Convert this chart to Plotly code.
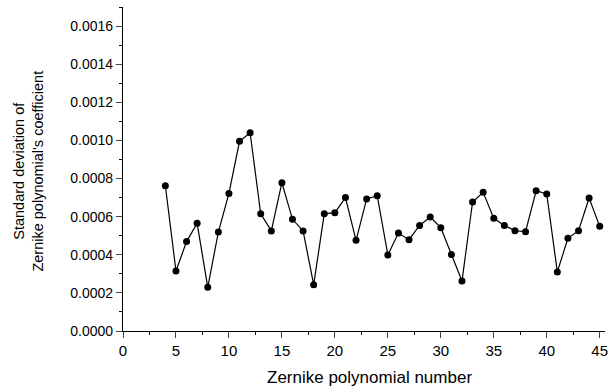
import plotly.graph_objects as go

zernike_number = list(range(4, 46))
std_dev = [0.000762, 0.000315, 0.000469, 0.000565, 0.000229, 0.000519, 0.000722, 0.000995,
           0.00104, 0.000615, 0.000525, 0.000778, 0.000586, 0.000525, 0.000243, 0.000615,
           0.000621, 0.000700, 0.000476, 0.000693, 0.000710, 0.000399, 0.000514, 0.000479,
           0.000554, 0.000598, 0.000542, 0.000402, 0.000262, 0.000677, 0.000728, 0.000591,
           0.000554, 0.000526, 0.000521, 0.000736, 0.000719, 0.000310, 0.000486, 0.000526,
           0.000698, 0.000549]

x_ticks = [0, 5, 10, 15, 20, 25, 30, 35, 40, 45]
y_ticks = [0.0, 0.0002, 0.0004, 0.0006, 0.0008, 0.0010, 0.0012, 0.0014, 0.0016]
x_title = "Zernike polynomial number"
y_title = "Standard deviation of<br>Zernike polynomial's coefficient"

font = "Liberation Sans, Arial, sans-serif"

fig = go.Figure()
fig.add_trace(go.Scatter(
    x=zernike_number, y=std_dev, mode="lines+markers",
    line=dict(color="black", width=1.2),
    marker=dict(color="black", size=7),
    showlegend=False,
))

fig.update_layout(
    width=609, height=389,
    margin=dict(l=123, r=4, t=7, b=58),
    paper_bgcolor="white", plot_bgcolor="white",
    font=dict(family=font, color="black", size=12),
)
fig.update_xaxes(
    range=[0, 45.5], tickvals=x_ticks, ticks="outside", ticklen=6, tickwidth=1,
    showline=True, linecolor="black", linewidth=1.2, showgrid=False, zeroline=False,
    minor=dict(dtick=2.5, tick0=0, ticks="outside", ticklen=3, tickcolor="black", showgrid=False),
    tickfont=dict(size=15, family=font), automargin=False,
)
fig.update_yaxes(
    range=[0, 0.0017], tickvals=y_ticks, tickformat=".4f", ticks="outside", ticklen=6, tickwidth=1,
    showline=True, linecolor="black", linewidth=1.2, showgrid=False, zeroline=False,
    minor=dict(dtick=0.0001, tick0=0, ticks="outside", ticklen=3, tickcolor="black", showgrid=False),
    tickfont=dict(size=14, family=font), automargin=False,
)
fig.add_annotation(text=x_title, xref="paper", yref="paper", x=0.512, y=-0.142,
                   xanchor="center", yanchor="middle", showarrow=False,
                   font=dict(size=17, family=font, color="black"))
fig.add_annotation(text=y_title, xref="paper", yref="paper", x=-0.195, y=0.492,
                   xanchor="center", yanchor="middle", showarrow=False, textangle=-90,
                   font=dict(size=14.5, family=font, color="black"))

fig.write_html("out.html", config={"displayModeBar": False},
               post_script="document.body.style.margin='0';document.documentElement.style.overflow='hidden';")
